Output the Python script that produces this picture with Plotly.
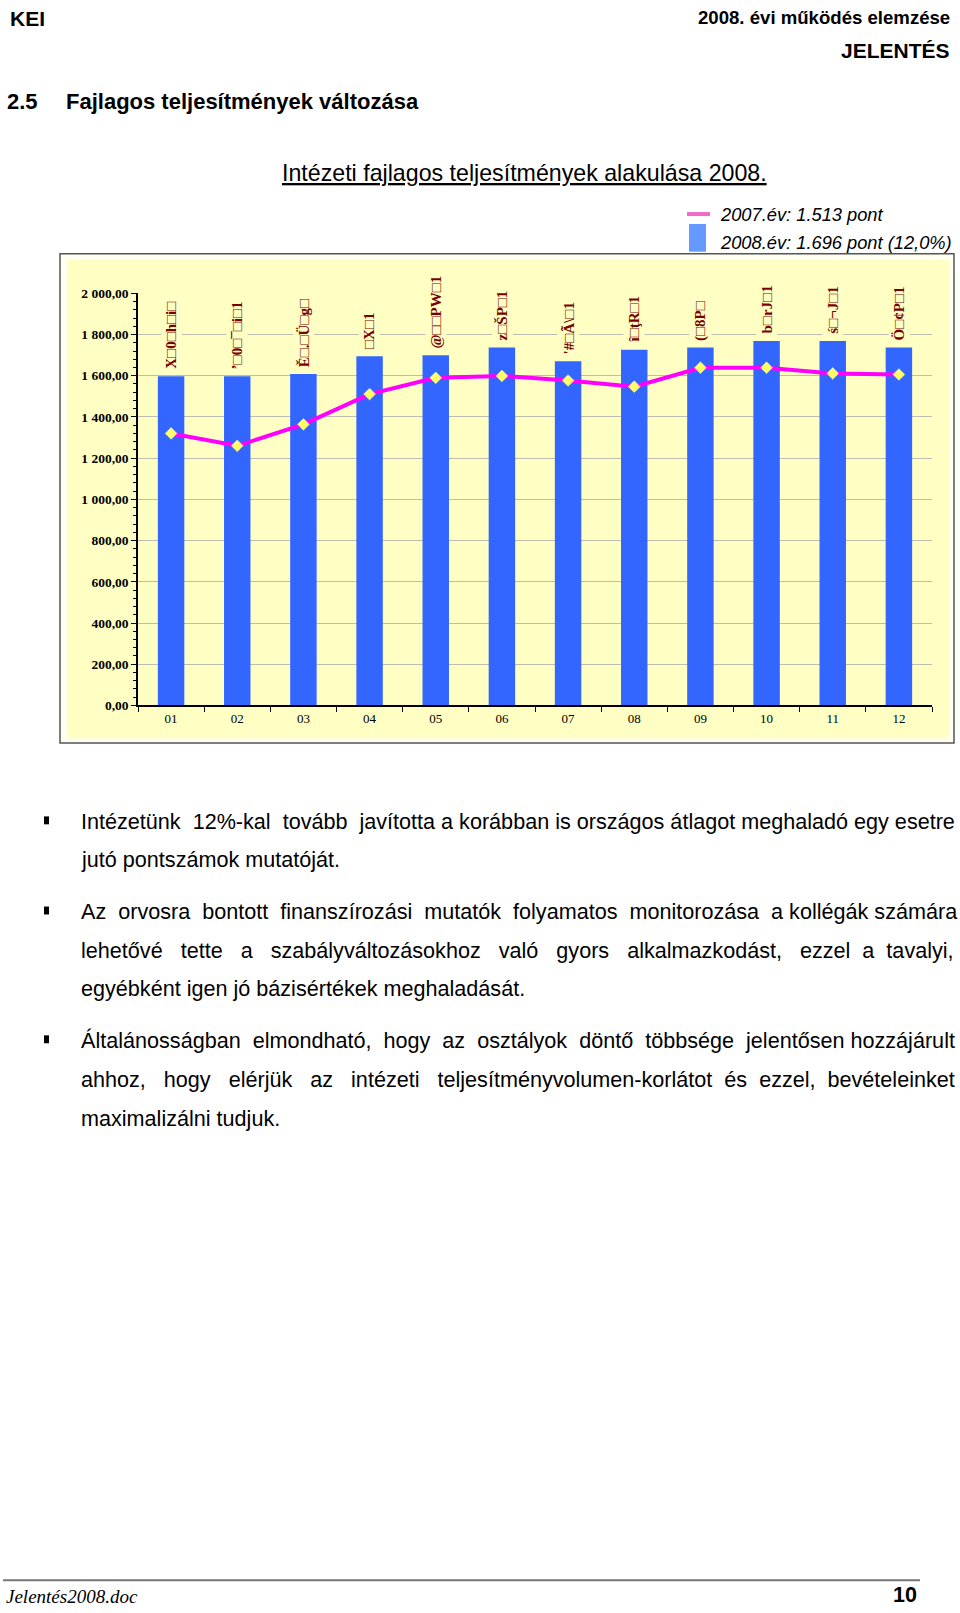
import unicodedata
import plotly.graph_objects as go

# ---------------- data ----------------
categories = ["01", "02", "03", "04", "05", "06", "07", "08", "09", "10", "11", "12"]
values_2008 = [1598, 1598, 1609, 1694, 1699, 1737, 1670, 1726, 1737, 1769, 1769, 1737]
values_2007 = [1320, 1260, 1364, 1511, 1590, 1599, 1577, 1547, 1639, 1639, 1611, 1606]
bar_labels = ["X□0□h□i□", "’□0□¯□i□1", "Ě□.□Ü□g□", "□X□1", "@□□PW□1", "z□ŠP□1",
              "'#□Ã\\□1", "î□ţR□1", "(□8P□", "b□rJ□1", "ś□¬J□1", "Ö□¢P□1"]
y_tickvals = [0, 200, 400, 600, 800, 1000, 1200, 1400, 1600, 1800, 2000]
y_ticktext = ["0,00", "200,00", "400,00", "600,00", "800,00", "1 000,00", "1 200,00",
              "1 400,00", "1 600,00", "1 800,00", "2 000,00"]
legend_2007 = "2007.év: 1.513 pont"
legend_2008 = "2008.év: 1.696 pont (12,0%)"
chart_title = "Intézeti fajlagos teljesítmények alakulása 2008."

header_left = "KEI"
header_right1 = "2008. évi működés elemzése"
header_right2 = "JELENTÉS"
section_num = "2.5"
section_title = "Fajlagos teljesítmények változása"

paragraphs = [
    ["Intézetünk 12%-kal tovább javította a korábban is országos átlagot meghaladó egy esetre",
     "jutó pontszámok mutatóját."],
    ["Az orvosra bontott finanszírozási mutatók folyamatos monitorozása a kollégák számára",
     "lehetővé tette a szabályváltozásokhoz való gyors alkalmazkodást, ezzel a tavalyi,",
     "egyébként igen jó bázisértékek meghaladását."],
    ["Általánosságban elmondható, hogy az osztályok döntő többsége jelentősen hozzájárult",
     "ahhoz, hogy elérjük az intézeti teljesítményvolumen-korlátot és ezzel, bevételeinket",
     "maximalizálni tudjuk."],
]
footer_left = "Jelentés2008.doc"
footer_right = "10"

# ---------------- helpers ----------------
W, H = 960, 1613
SANS = "Liberation Sans, Arial, sans-serif"
SERIF = "Liberation Serif, Times New Roman, serif"
YELLOW = "#FFFFC4"


def px(x):
    return x / W


def py(y):
    return 1 - y / H


AW = {' ': 278, '\u00a0': 278, '!': 278, '%': 889, "'": 191, '(': 333, ')': 333, ',': 278,
      '-': 333, '.': 278, '/': 278, ':': 278, ';': 278,
      'A': 667, 'B': 667, 'C': 722, 'D': 722, 'E': 667, 'F': 611, 'G': 778, 'H': 722, 'I': 278,
      'J': 500, 'K': 667, 'L': 556, 'M': 833, 'N': 722, 'O': 778, 'P': 667, 'Q': 778, 'R': 722,
      'S': 667, 'T': 611, 'U': 722, 'V': 667, 'W': 944, 'X': 667, 'Y': 667, 'Z': 611,
      'a': 556, 'b': 556, 'c': 500, 'd': 556, 'e': 556, 'f': 278, 'g': 556, 'h': 556, 'i': 222,
      'j': 222, 'k': 500, 'l': 222, 'm': 833, 'n': 556, 'o': 556, 'p': 556, 'q': 556, 'r': 333,
      's': 500, 't': 278, 'u': 556, 'v': 500, 'w': 722, 'x': 500, 'y': 500, 'z': 500,
      'í': 278}


def char_w(ch):
    if ch in AW:
        return AW[ch]
    if ch.isdigit():
        return 556
    base = unicodedata.normalize('NFD', ch)[0]
    return AW.get(base, 556)


def text_w(s, size):
    return sum(char_w(c) for c in s) / 1000.0 * size


def justify(line, size, target):
    words = line.split(' ')
    gaps = len(words) - 1
    if gaps <= 0:
        return line
    extra = target - text_w(line, size)
    nb = text_w('\u00a0', size)
    n_total = max(0, int(extra // nb))
    base, rem = divmod(n_total, gaps)
    out = words[0]
    for i, w in enumerate(words[1:]):
        k = base + (1 if i < rem else 0)
        out += ' ' + '\u00a0' * k + w
    return out


# ---------------- figure ----------------
fig = go.Figure()

fig.add_trace(go.Bar(
    x=categories, y=values_2008, width=0.4,
    marker=dict(color="#3366FF", line=dict(width=0)),
    showlegend=False, hoverinfo="skip",
))
fig.add_trace(go.Scatter(
    x=categories, y=values_2007, mode="lines+markers",
    line=dict(color="#FF00FF", width=4),
    marker=dict(symbol="diamond", size=9, color="#FFFF66", line=dict(color="#FFFFAA", width=0.5)),
    showlegend=False, hoverinfo="skip",
))

annotations = []
# bar data labels (rotated); category index used as x position
for i, (v, t) in enumerate(zip(values_2008, bar_labels)):
    annotations.append(dict(
        x=i, y=v, xref="x", yref="y", text="<b>%s</b>" % t, showarrow=False,
        textangle=-90, xanchor="center", yanchor="bottom", yshift=4,
        font=dict(family=SERIF, size=15, color="#7A0000"),
        bgcolor=YELLOW, borderpad=2,
    ))

# header
annotations += [
    dict(x=px(8), y=py(12), text="<b>%s</b>" % header_left, xanchor="left", yanchor="middle",
         font=dict(family=SANS, size=21, color="black")),
    dict(x=px(952), y=py(11), text="<b>%s</b>" % header_right1, xanchor="right", yanchor="middle",
         font=dict(family=SANS, size=18.6, color="black")),
    dict(x=px(952), y=py(44), text="<b>%s</b>" % header_right2, xanchor="right", yanchor="middle",
         font=dict(family=SANS, size=21, color="black")),
    dict(x=px(5), y=py(95), text="<b>%s</b>" % section_num, xanchor="left", yanchor="middle",
         font=dict(family=SANS, size=22, color="black")),
    dict(x=px(64), y=py(95), text="<b>%s</b>" % section_title, xanchor="left", yanchor="middle",
         font=dict(family=SANS, size=22, color="black")),
    # chart title
    dict(x=px(280), y=py(168), text="<u>%s</u>" % chart_title, xanchor="left", yanchor="middle",
         font=dict(family=SANS, size=23.2, color="black")),
    # legend
    dict(x=px(718), y=py(209), text="<i>%s</i>" % legend_2007, xanchor="left", yanchor="middle",
         font=dict(family=SANS, size=18.3, color="black")),
    dict(x=px(718), y=py(238), text="<i>%s</i>" % legend_2008, xanchor="left", yanchor="middle",
         font=dict(family=SANS, size=18.3, color="black")),
    # footer
    dict(x=px(4), y=py(1604), text="<i>%s</i>" % footer_left, xanchor="left", yanchor="middle",
         font=dict(family=SERIF, size=19, color="black")),
    dict(x=px(919), y=py(1603), text="<b>%s</b>" % footer_right, xanchor="right", yanchor="middle",
         font=dict(family=SANS, size=21.5, color="black")),
]

# body text
BODY_SIZE = 21.6
line_ys = [[822, 861], [913, 952, 991], [1043, 1083, 1122]]
shapes = []
for para, ys in zip(paragraphs, line_ys):
    for i, (line, yy) in enumerate(zip(para, ys)):
        last = (i == len(para) - 1)
        txt = line if last else justify(line, BODY_SIZE, 956 - 79)
        annotations.append(dict(x=px(79), y=py(yy), text=txt, xanchor="left", yanchor="middle",
                                font=dict(family=SANS, size=BODY_SIZE, color="black")))
    # bullet
    shapes.append(dict(type="rect", xref="paper", yref="paper",
                       x0=px(44), x1=px(49), y0=py(ys[0] - 5), y1=py(ys[0] + 3),
                       fillcolor="black", line=dict(width=0)))

for a in annotations:
    a.setdefault("xref", "paper")
    a.setdefault("yref", "paper")
    a.setdefault("showarrow", False)

# chart frame
shapes += [
    dict(type="rect", xref="paper", yref="paper", layer="below",
         x0=px(60), x1=px(954), y0=py(743), y1=py(249),
         fillcolor="#FFFFF2", line=dict(color="#555555", width=1.5)),
    dict(type="rect", xref="paper", yref="paper", layer="below",
         x0=px(67), x1=px(949), y0=py(738), y1=py(255),
         fillcolor=YELLOW, line=dict(width=0)),
    # legend symbols
    dict(type="line", xref="paper", yref="paper",
         x0=px(687), x1=px(710), y0=py(209), y1=py(209),
         line=dict(color="#F06AC8", width=4)),
    dict(type="rect", xref="paper", yref="paper",
         x0=px(689), x1=px(706), y0=py(247), y1=py(219),
         fillcolor="#6699FF", line=dict(width=0)),
    # footer rule
    dict(type="line", xref="paper", yref="paper",
         x0=px(3), x1=px(920), y0=py(1588), y1=py(1588),
         line=dict(color="#777777", width=2)),
]

fig.update_layout(
    width=W, height=H, margin=dict(l=0, r=0, t=0, b=0),
    paper_bgcolor="white", plot_bgcolor=YELLOW,
    bargap=0.6, showlegend=False,
    annotations=annotations, shapes=shapes,
    xaxis=dict(domain=[px(138), px(932)], type="category", range=[-0.5, 11.5],
               showline=True, linecolor="black", linewidth=1.5,
               ticks="outside", ticklen=5, tickcolor="black", tickson="boundaries",
               showgrid=False, tickfont=dict(family=SERIF, size=13, color="black"),
               fixedrange=True),
    yaxis=dict(domain=[py(705), py(289)], range=[0, 2000],
               tickvals=y_tickvals, ticktext=y_ticktext,
               showline=True, linecolor="black", linewidth=1.5,
               ticks="outside", ticklen=5, tickcolor="black",
               minor=dict(dtick=40, ticklen=3, tickcolor="black", ticks="outside", showgrid=False),
               showgrid=True, gridcolor="#BDBDB0", gridwidth=1.2,
               tickfont=dict(family=SERIF, size=13.5, color="black", weight="bold"),
               zeroline=False, fixedrange=True),
)

fig.write_html("out.html")
